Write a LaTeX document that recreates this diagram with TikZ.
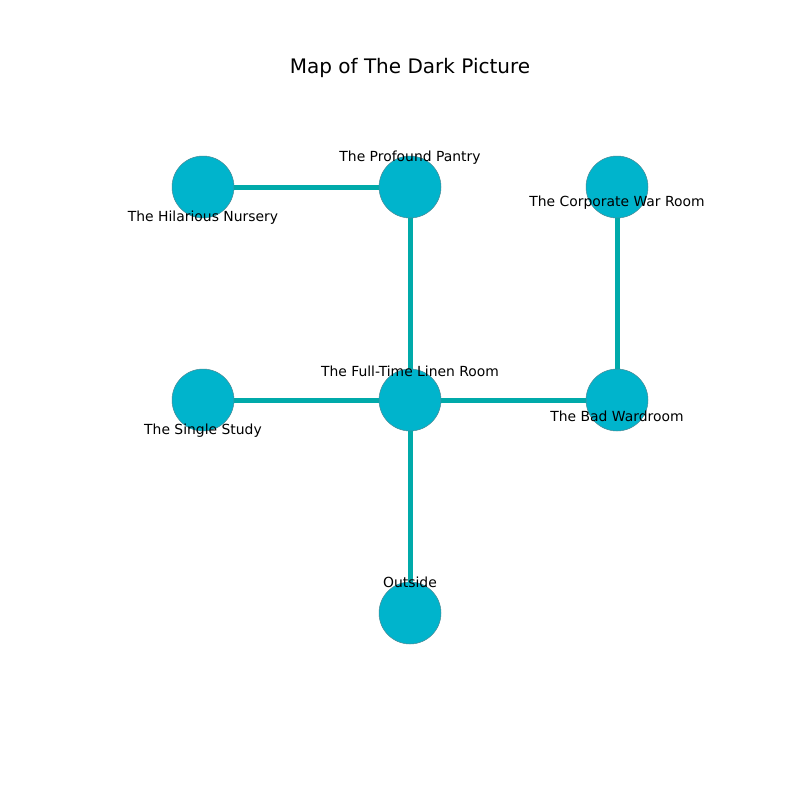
\documentclass[tikz,border=0pt]{standalone}
\usepackage{fontspec}
\setmainfont{DejaVu Sans}
\begin{document}
\begin{tikzpicture}[x=1pt,y=-1pt,
  room/.style={circle,minimum size=62pt,inner sep=0pt,fill=roomfill,draw=roomedge,line width=0.5pt},
  link/.style={draw=linkcol,line width=5pt},
  lbl/.style={font=\fontsize{13.9}{16}\selectfont,text=black,inner sep=0pt,anchor=center}]
\definecolor{roomfill}{HTML}{00B4CC}
\definecolor{roomedge}{HTML}{4A8A96}
\definecolor{linkcol}{HTML}{00AAAA}
\useasboundingbox (0,0) rectangle (800,800);
\fill[white] (0,0) rectangle (800,800);
\node[font=\fontsize{20}{24}\selectfont,inner sep=0pt] (title) at (410,68) {Map of The Dark Picture};
\coordinate (n1) at (203,187);
\coordinate (n2) at (410,187);
\coordinate (n3) at (617,187);
\coordinate (n4) at (203,400);
\coordinate (n5) at (410,400);
\coordinate (n6) at (617,400);
\coordinate (n7) at (410,613);
\draw[link] (n1) -- (n2);
\draw[link] (n2) -- (n5);
\draw[link] (n3) -- (n6);
\draw[link] (n4) -- (n5);
\draw[link] (n5) -- (n6);
\draw[link] (n5) -- (n7);
\node[room] (c1) at (n1) {};
\node[room] (c2) at (n2) {};
\node[room] (c3) at (n3) {};
\node[room] (c4) at (n4) {};
\node[room] (c5) at (n5) {};
\node[room] (c6) at (n6) {};
\node[room] (c7) at (n7) {};
\node[lbl] (l1) at (203,218) {The Hilarious Nursery};
\node[lbl] (l2) at (410,158) {The Profound Pantry};
\node[lbl] (l3) at (617,203) {The Corporate War Room};
\node[lbl] (l4) at (203,431) {The Single Study};
\node[lbl] (l5) at (410,371) {The Full-Time Linen Room};
\node[lbl] (l6) at (617,416) {The Bad Wardroom};
\node[lbl] (l7) at (410,582) {Outside};
\end{tikzpicture}
\end{document}
